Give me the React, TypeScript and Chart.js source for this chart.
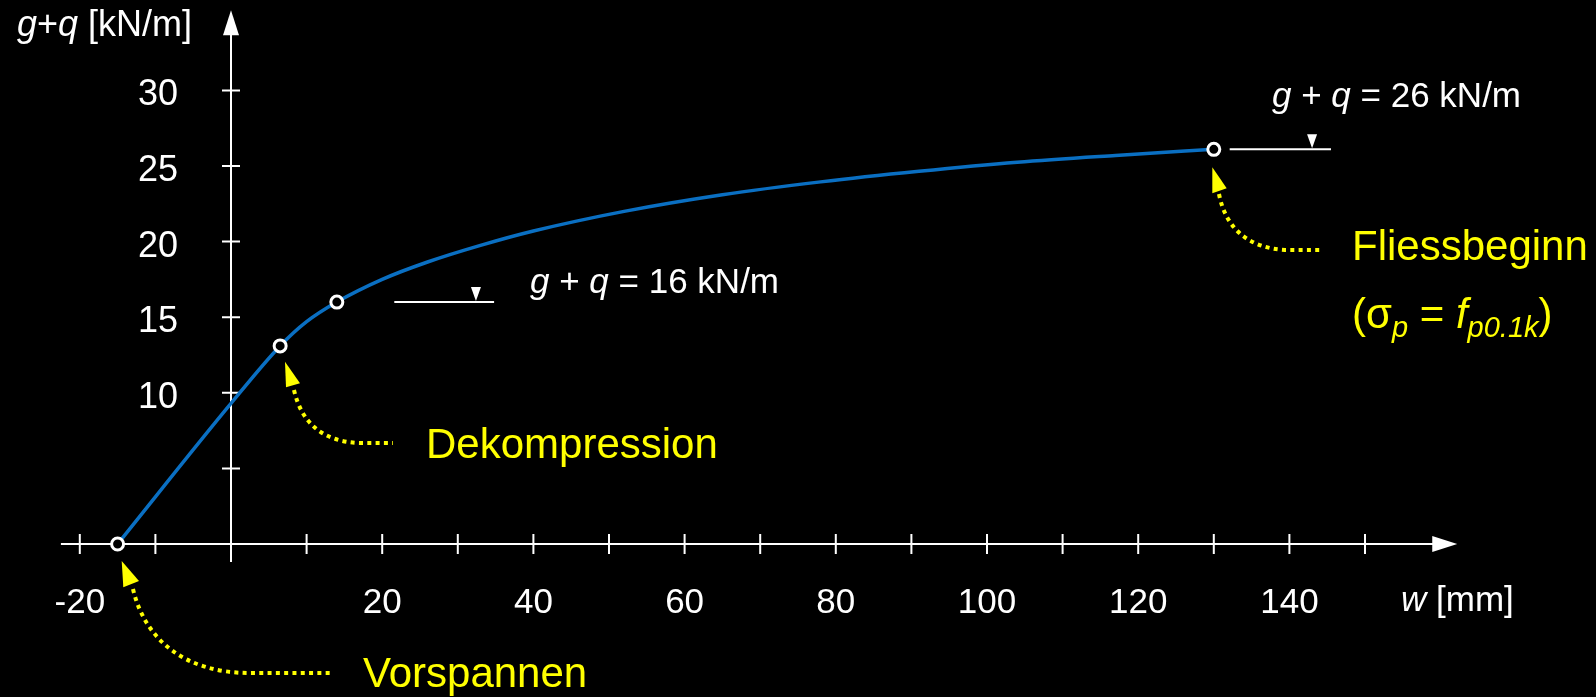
import React, { useEffect, useRef } from "react";
import { Chart, registerables } from "chart.js";

Chart.register(...registerables);

// ---- data ----
const curveX = [-15, 0, 6.5, 10, 14, 20, 26, 33, 40, 52, 65, 78, 91, 104, 117, 130];
const curveY = [0, 9.3, 13.1, 14.7, 16.0, 17.5, 18.65, 19.75, 20.7, 22.0, 23.1, 23.95, 24.65, 25.25, 25.7, 26.1];
const markerX = [-15, 6.5, 14, 130];
const markerY = [0, 13.1, 16.0, 26.1];
const xTickValues = [-20, -10, 10, 20, 30, 40, 50, 60, 70, 80, 90, 100, 110, 120, 130, 140, 150];
const xTickLabels = ["-20", "20", "40", "60", "80", "100", "120", "140"];
const yTickValues = [5, 10, 15, 20, 25, 30];
const yTickLabels = ["10", "15", "20", "25", "30"];
const loadLabels = ["16", "26"];
const loadLevels = [16.0, 26.1];

const FONT = '"Liberation Sans", Arial, Helvetica, sans-serif';
const font = (size: number, italic = false) => `${italic ? "italic " : ""}${size}px ${FONT}`;

type Seg = { t: string; size: number; italic?: boolean; dy?: number };

function drawRich(ctx: CanvasRenderingContext2D, x: number, y: number, segs: Seg[], color: string) {
  let cx = x;
  ctx.fillStyle = color;
  ctx.textAlign = "left";
  ctx.textBaseline = "alphabetic";
  for (const s of segs) {
    ctx.font = font(s.size, s.italic);
    ctx.fillText(s.t, cx, y + (s.dy || 0));
    cx += ctx.measureText(s.t).width;
  }
}

function tri(ctx: CanvasRenderingContext2D, p: number[][], color: string) {
  ctx.beginPath();
  ctx.moveTo(p[0][0], p[0][1]);
  ctx.lineTo(p[1][0], p[1][1]);
  ctx.lineTo(p[2][0], p[2][1]);
  ctx.closePath();
  ctx.fillStyle = color;
  ctx.fill();
}

function dottedArrow(
  ctx: CanvasRenderingContext2D,
  start: number[],
  c1: number[],
  c2: number[],
  mid: number[],
  end: number[],
  head: number[][]
) {
  ctx.save();
  ctx.strokeStyle = "#ffff00";
  ctx.lineWidth = 4;
  ctx.lineCap = "butt";
  ctx.setLineDash([4, 4.3]);
  ctx.beginPath();
  ctx.moveTo(start[0], start[1]);
  ctx.bezierCurveTo(c1[0], c1[1], c2[0], c2[1], mid[0], mid[1]);
  ctx.lineTo(end[0], end[1]);
  ctx.stroke();
  ctx.restore();
  tri(ctx, head, "#ffff00");
}

const customPlugin = {
  id: "custom",
  beforeDraw(chart: any) {
    const ctx = chart.ctx;
    ctx.save();
    ctx.fillStyle = "#000";
    ctx.fillRect(0, 0, chart.width, chart.height);
    ctx.restore();
  },
  beforeDatasetsDraw(chart: any) {
    const ctx: CanvasRenderingContext2D = chart.ctx;
    const xs = chart.scales.x;
    const ys = chart.scales.y;
    const x0 = xs.getPixelForValue(0);
    const y0 = ys.getPixelForValue(0);
    ctx.save();
    ctx.strokeStyle = "#fff";
    ctx.lineWidth = 2;
    // x axis
    const xStart = xs.getPixelForValue(-22.5);
    const xTip = xs.getPixelForValue(162.2);
    ctx.beginPath();
    ctx.moveTo(xStart, y0);
    ctx.lineTo(xTip - 20, y0);
    ctx.stroke();
    tri(ctx, [[xTip, y0], [xTip - 25, y0 - 8], [xTip - 25, y0 + 8]], "#fff");
    // y axis
    const yBottom = y0 + 18;
    const yTip = ys.getPixelForValue(35.3);
    ctx.beginPath();
    ctx.moveTo(x0, yBottom);
    ctx.lineTo(x0, yTip + 20);
    ctx.stroke();
    tri(ctx, [[x0, yTip], [x0 - 8, yTip + 25], [x0 + 8, yTip + 25]], "#fff");
    // ticks
    ctx.beginPath();
    for (const v of xTickValues) {
      const px = xs.getPixelForValue(v);
      ctx.moveTo(px, y0 - 10);
      ctx.lineTo(px, y0 + 10);
    }
    for (const v of yTickValues) {
      const py = ys.getPixelForValue(v);
      ctx.moveTo(x0 - 9, py);
      ctx.lineTo(x0 + 9, py);
    }
    ctx.stroke();
    ctx.restore();
  },
  afterDatasetsDraw(chart: any) {
    const ctx: CanvasRenderingContext2D = chart.ctx;
    const xs = chart.scales.x;
    const ys = chart.scales.y;
    const x0 = xs.getPixelForValue(0);
    const y0 = ys.getPixelForValue(0);
    ctx.save();
    // tick labels
    ctx.fillStyle = "#fff";
    ctx.font = font(35);
    ctx.textBaseline = "alphabetic";
    ctx.textAlign = "center";
    for (const l of xTickLabels) {
      ctx.fillText(l, xs.getPixelForValue(Number(l)), y0 + 69);
    }
    ctx.font = font(36);
    ctx.textAlign = "right";
    for (const l of yTickLabels) {
      ctx.fillText(l, x0 - 53, ys.getPixelForValue(Number(l)) + 15);
    }
    // axis titles
    drawRich(ctx, 17, 36, [
      { t: "g", size: 36, italic: true },
      { t: "+", size: 36 },
      { t: "q", size: 36, italic: true },
      { t: " [kN/m]", size: 36 },
    ], "#fff");
    drawRich(ctx, 1401, 611, [
      { t: "w", size: 35, italic: true },
      { t: " [mm]", size: 35 },
    ], "#fff");

    // load level annotations
    const annX = [[21.6, 34.8, 32.4], [132.1, 145.5, 143.0]];
    const textPos = [[530, 293], [1272, 107]];
    loadLevels.forEach((lv, i) => {
      const py = ys.getPixelForValue(lv);
      const a = xs.getPixelForValue(annX[i][0]);
      const b = xs.getPixelForValue(annX[i][1]);
      const t = xs.getPixelForValue(annX[i][2]);
      ctx.strokeStyle = "#fff";
      ctx.lineWidth = 2;
      ctx.beginPath();
      ctx.moveTo(a, py);
      ctx.lineTo(b, py);
      ctx.stroke();
      tri(ctx, [[t, py - 1], [t - 5, py - 15], [t + 5, py - 15]], "#fff");
      drawRich(ctx, textPos[i][0], textPos[i][1], [
        { t: "g", size: 35, italic: true },
        { t: " + ", size: 35 },
        { t: "q", size: 35, italic: true },
        { t: " = " + loadLabels[i] + " kN/m", size: 35 },
      ], "#fff");
    });

    // yellow arrows
    dottedArrow(ctx, [133, 589], [145, 640], [185, 673], [250, 673], [333, 673],
      [[121.7, 561], [123.3, 587.3], [139, 581]]);
    dottedArrow(ctx, [294, 390], [302, 425], [325, 442], [360, 443], [393, 443],
      [[285, 361.7], [286, 387.3], [300, 383.3]]);
    dottedArrow(ctx, [1219, 194], [1226, 230], [1250, 248], [1285, 250], [1321, 250],
      [[1212.3, 167.3], [1212.3, 193.3], [1226.7, 188.3]]);

    // yellow texts
    const Y = "#ffff00";
    drawRich(ctx, 363, 687, [{ t: "Vorspannen", size: 42 }], Y);
    drawRich(ctx, 426, 458, [{ t: "Dekompression", size: 42 }], Y);
    drawRich(ctx, 1352, 260, [{ t: "Fliessbeginn", size: 42 }], Y);
    drawRich(ctx, 1352, 328, [
      { t: "(", size: 42 },
      { t: "σ", size: 42 },
      { t: "p", size: 29, italic: true, dy: 9 },
      { t: " = ", size: 42 },
      { t: "f", size: 42, italic: true },
      { t: "p0.1k", size: 29, italic: true, dy: 9 },
      { t: ")", size: 42 },
    ], Y);
    ctx.restore();
  },
};

export default function App() {
  const ref = useRef<HTMLCanvasElement | null>(null);
  useEffect(() => {
    if (!ref.current) return;
    const chart = new Chart(ref.current, {
      type: "scatter",
      data: {
        datasets: [
          {
            data: markerX.map((x, i) => ({ x, y: markerY[i] })),
            showLine: false,
            pointRadius: 6,
            pointBackgroundColor: "#000",
            pointBorderColor: "#fff",
            pointBorderWidth: 3,
          },
          {
            data: curveX.map((x, i) => ({ x, y: curveY[i] })),
            showLine: true,
            pointRadius: 0,
            borderColor: "#0A6FC2",
            borderWidth: 3.5,
            cubicInterpolationMode: "monotone",
            fill: false,
          },
        ],
      } as any,
      options: {
        responsive: false,
        maintainAspectRatio: false,
        devicePixelRatio: 1,
        animation: false,
        events: [],
        layout: { autoPadding: false, padding: { left: 4.2, right: 4.2, top: 14.8, bottom: 1.8 } },
        plugins: { legend: { display: false }, tooltip: { enabled: false } },
        scales: {
          x: { type: "linear", min: -30, max: 180, display: false },
          y: { type: "linear", min: -10, max: 35, display: false },
        },
      } as any,
      plugins: [customPlugin],
    });
    return () => chart.destroy();
  }, []);
  return (
    <div style={{ position: "fixed", left: 0, top: 0, width: 1596, height: 697, background: "#000" }}>
      <canvas ref={ref} width={1596} height={697} style={{ display: "block", width: 1596, height: 697 }} />
    </div>
  );
}
